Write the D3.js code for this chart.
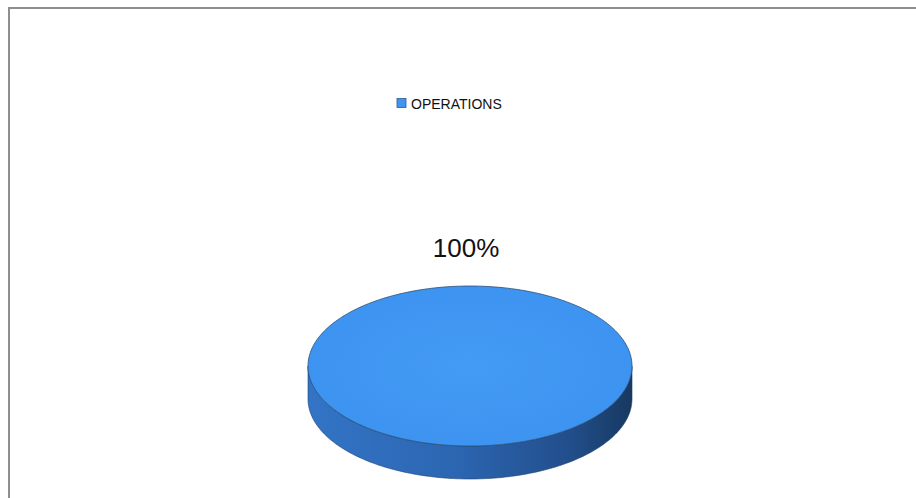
<!DOCTYPE html>
<html>
<head>
<meta charset="utf-8">
<script src="https://cdn.jsdelivr.net/npm/d3@7"></script>
<style>
  body { margin: 0; background: #fff; }
  svg { display: block; }
</style>
</head>
<body>
<svg id="chart" width="916" height="498"></svg>
<script>
// chart data
var categories = ['OPERATIONS'];
var values = [100];
var colors = ['#3f95f0'];

var svg = d3.select('#chart');
var W = 916, H = 498;

// frame (chart area runs off the right and bottom of the picture)
svg.append('rect')
  .attr('x', 9).attr('y', 8)
  .attr('width', W + 20).attr('height', H + 20)
  .attr('fill', '#fff')
  .attr('stroke', '#8e8e8e')
  .attr('stroke-width', 2);

var defs = svg.append('defs');
var sideGrad = defs.append('linearGradient').attr('id', 'sideGrad')
  .attr('x1', '0%').attr('x2', '100%').attr('y1', '0%').attr('y2', '0%');
sideGrad.append('stop').attr('offset', '0%').attr('stop-color', '#3374c6');
sideGrad.append('stop').attr('offset', '45%').attr('stop-color', '#2c66b2');
sideGrad.append('stop').attr('offset', '80%').attr('stop-color', '#224f8c');
sideGrad.append('stop').attr('offset', '100%').attr('stop-color', '#173961');

var topGrad = defs.append('radialGradient').attr('id', 'topGrad')
  .attr('cx', '50%').attr('cy', '50%').attr('r', '60%');
topGrad.append('stop').attr('offset', '0%').attr('stop-color', '#449bf5');
topGrad.append('stop').attr('offset', '100%').attr('stop-color', '#3c92ef');

// 3D pie geometry
var cx = 470, cy = 366, rx = 162, ry = 80, depth = 33;
var pie = d3.pie().sort(null).value(d => d);
var arcs = pie(values);

var ex = d3.scaleLinear().domain([-1, 1]).range([cx - rx, cx + rx]);
var ey = d3.scaleLinear().domain([-1, 1]).range([cy - ry, cy + ry]);
function pt(a, dy) { return [ex(Math.sin(a)), ey(-Math.cos(a)) + (dy || 0)]; }
function angles(a0, a1) {
  var n = Math.max(2, Math.ceil((a1 - a0) / 0.02));
  return d3.range(n + 1).map(i => a0 + (a1 - a0) * i / n);
}
var line = d3.line();

var g = svg.append('g');

// side walls (front half only)
arcs.forEach(function(d, i) {
  var a0 = Math.max(d.startAngle, Math.PI / 2);
  var a1 = Math.min(d.endAngle, Math.PI * 1.5);
  if (a1 <= a0) return;
  var upper = angles(a0, a1).map(a => pt(a));
  var lower = angles(a0, a1).reverse().map(a => pt(a, depth));
  g.append('path')
    .attr('d', line(upper.concat(lower)) + 'Z')
    .attr('fill', 'url(#sideGrad)')
    .attr('stroke', '#1d4270')
    .attr('stroke-width', 0.6);
});

// top faces
arcs.forEach(function(d, i) {
  var pts = angles(d.startAngle, d.endAngle).map(a => pt(a));
  var full = d.endAngle - d.startAngle >= Math.PI * 2 - 1e-6;
  var p = full ? line(pts) + 'Z' : line([[cx, cy]].concat(pts)) + 'Z';
  g.append('path')
    .attr('d', p)
    .attr('fill', i === 0 ? 'url(#topGrad)' : colors[i])
    .attr('stroke', '#2d4f78')
    .attr('stroke-width', 0.8);
});

// data label
var total = d3.sum(values);
arcs.forEach(function(d) {
  svg.append('text')
    .attr('x', 466).attr('y', 257)
    .attr('text-anchor', 'middle')
    .attr('font-family', 'Liberation Sans, Arial, sans-serif')
    .attr('font-size', 26)
    .attr('fill', '#111')
    .text(d3.format('.0%')(d.value / total));
});

// legend
var legend = svg.append('g').attr('transform', 'translate(397,98)');
categories.forEach(function(c, i) {
  legend.append('rect')
    .attr('x', 0).attr('y', 0.5).attr('width', 9).attr('height', 9)
    .attr('fill', colors[i]).attr('stroke', '#2a5d96').attr('stroke-width', 0.8);
  legend.append('text')
    .attr('x', 14).attr('y', 10.5)
    .attr('font-family', 'Liberation Sans, Arial, sans-serif')
    .attr('font-size', 14)
    .attr('fill', '#111')
    .text(c);
});
</script>
</body>
</html>
